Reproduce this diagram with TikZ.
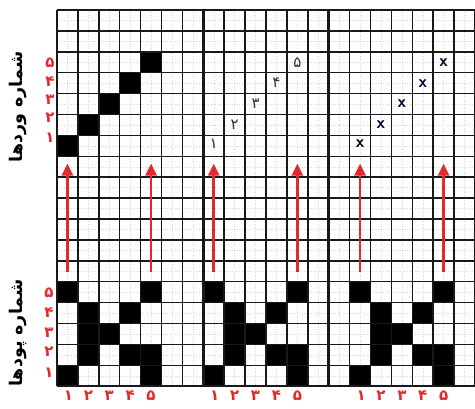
\documentclass[tikz,border=0pt]{standalone}
\usepackage{fontspec}
\usetikzlibrary{arrows.meta}
\newfontfamily\arabicfont[Script=Arabic]{DejaVu Sans}
\TeXXeTstate=1
\definecolor{redd}{RGB}{228,40,44}
\definecolor{gridc}{RGB}{25,25,25}
\tikzset{
  blk/.style={fill=black},
  redarrow/.style={draw=redd, line width=2.6pt, -{Triangle[length=12pt,width=11pt]}},
  rednum/.style={text=redd, font=\arabicfont\bfseries\fontsize{15}{15}\selectfont, inner sep=0pt},
  cellnum/.style={text=black!80, font=\arabicfont\fontsize{15}{15}\selectfont, inner sep=0pt},
  xmark/.style={text=black!85!blue, font=\sffamily\bfseries\fontsize{17}{17}\selectfont, inner sep=0pt},
  sidelabel/.style={rotate=90, font=\arabicfont\bfseries\fontsize{17.5}{17.5}\selectfont, inner sep=0pt}
}
\begin{document}
\begin{tikzpicture}[x=1pt,y=-1pt]
\useasboundingbox (0,0) rectangle (475,408);
\fill[white] (0,0) rectangle (475,408);
\begin{scope}[shift={(57,10)}, x=20.9pt, y=-20.9pt]
  % faint sub-grid
  \foreach \i in {0,...,19} \draw[gray!30, dotted, line width=0.4pt] (\i+0.5,0) -- (\i+0.5,18);
  \foreach \j in {0,...,17} \draw[gray!30, dotted, line width=0.4pt] (0,\j+0.5) -- (20,\j+0.5);
  % black cells: panel 1 top diagonal
  \foreach \c/\r in {4/2,3/3,2/4,1/5,0/6} \fill[blk] (\c,\r) rectangle ++(1,1);
  % bottom patterns
  \foreach \p in {0,7,14} {
    \foreach \c/\r in {0/13,4/13,1/14,3/14,1/15,2/15,1/16,3/16,4/16,0/17,4/17}
      \fill[blk] (\p+\c,\r) rectangle ++(1,1);
  }
  % grid
  \foreach \i in {0,...,20} \draw[gridc, line width=1.5pt] (\i,0) -- (\i,18);
  \foreach \j in {0,...,18} \draw[gridc, line width=1.5pt] (0,\j) -- (20,\j);
  \draw[gridc, line width=2.6pt] (7,0) -- (7,18);
  \draw[gridc, line width=2.6pt] (13,0) -- (13,18);
  % panel 2 numbers
  \node[cellnum] (n1) at (7.5,6.4) {۱};
  \node[cellnum] (n2) at (8.5,5.5) {۲};
  \node[cellnum] (n3) at (9.5,4.5) {۳};
  \node[cellnum] (n4) at (10.5,3.5) {۴};
  \node[cellnum] (n5) at (11.5,2.5) {۵};
  % panel 3 crosses
  \node[xmark] (x1) at (14.5,6.4) {x};
  \node[xmark] (x2) at (15.5,5.5) {x};
  \node[xmark] (x3) at (16.5,4.5) {x};
  \node[xmark] (x4) at (17.5,3.5) {x};
  \node[xmark] (x5) at (18.5,2.5) {x};
  % arrows
  \foreach \c [count=\k] in {0.5,4.5,7.5,11.5,14.5,18.5} {
    \coordinate (a\k) at (\c,12.55);
    \coordinate (b\k) at (\c,7.35);
    \draw[redarrow] (a\k) -- (b\k);
  }
  % bottom digits
  \foreach \p [count=\q] in {0,7,14} {
    \node[rednum] (d\q a) at (\p+0.55,18.45) {۱};
    \node[rednum] (d\q b) at (\p+1.5,18.45) {۲};
    \node[rednum] (d\q c) at (\p+2.5,18.45) {۳};
    \node[rednum] (d\q d) at (\p+3.5,18.45) {۴};
    \node[rednum] (d\q e) at (\p+4.5,18.45) {۵};
  }
\end{scope}
% left red digits (upper)
\node[rednum] (u5) at (50,63) {۵};
\node[rednum] (u4) at (50,82) {۴};
\node[rednum] (u3) at (50,100) {۳};
\node[rednum] (u2) at (50,118) {۲};
\node[rednum] (u1) at (50,138) {۱};
% left red digits (lower)
\node[rednum] (l5) at (49,293) {۵};
\node[rednum] (l4) at (49,313) {۴};
\node[rednum] (l3) at (49,333) {۳};
\node[rednum] (l2) at (49,352) {۲};
\node[rednum] (l1) at (49,373) {۱};
% side labels
\node[sidelabel] (lab1) at (18,107) {\beginR شماره وردها\endR};
\node[sidelabel] (lab2) at (18,333) {\beginR شماره پودها\endR};
\end{tikzpicture}
\end{document}
